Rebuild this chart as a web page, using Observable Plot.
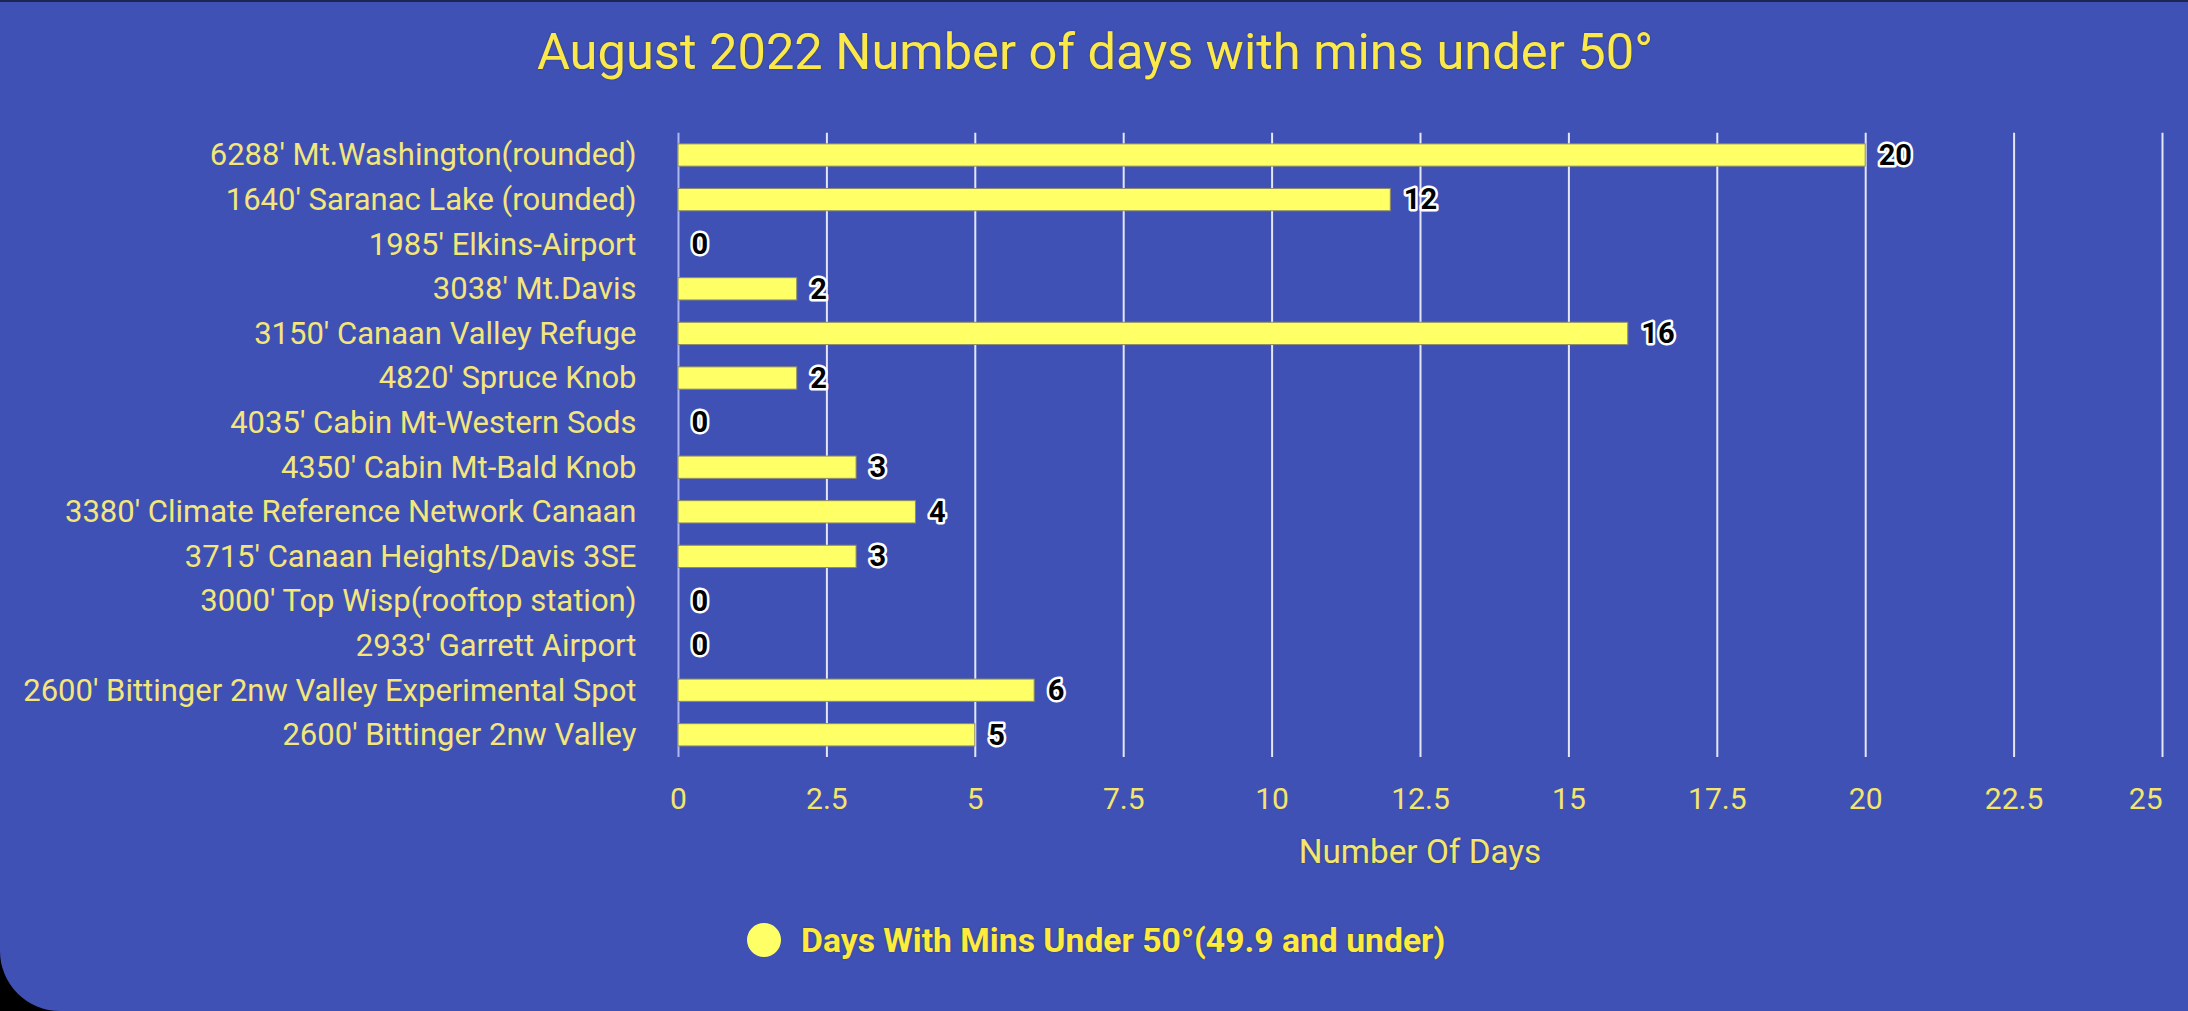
<!DOCTYPE html>
<html>
<head>
<meta charset="utf-8">
<script src="https://cdn.jsdelivr.net/npm/d3@7"></script>
<script src="https://cdn.jsdelivr.net/npm/@observablehq/plot@0.6"></script>
<style>
  html, body { margin: 0; padding: 0; background: #000; }
  #wrap {
    position: relative; width: 2188px; height: 1011px; box-sizing: border-box;
    background: #3F51B5; border-top: 2px solid #1d2550;
    border-bottom-left-radius: 60px; overflow: hidden;
    font-family: Roboto, "Noto Sans", sans-serif;
  }
  #title {
    position: absolute; left: 1px; width: 2188px; top: 24px; text-align: center;
    font-size: 50.6px; line-height: 51px; color: #fbe94c;
    text-shadow: 0 0 2px rgba(40,40,20,0.45);
  }
  #chart { position: absolute; left: 0; top: -2px; }
  #xlabel {
    position: absolute; left: 678px; width: 1484px; top: 833px; text-align: center;
    font-size: 33.3px; line-height: 33px; color: #f4e66c;
    text-shadow: 0 0 2px rgba(40,40,20,0.4);
  }
  #legend { position: absolute; left: 747px; top: 919px; height: 38px; display: flex; align-items: center; }
  #legend .dot { width: 34px; height: 34px; border-radius: 50%; background: #ffff66; margin-right: 20px; }
  #legend .txt { font-size: 33.7px; font-weight: bold; color: #ffeb3b; text-shadow: 0 0 2px rgba(40,40,20,0.45); }
</style>
</head>
<body>
<div id="wrap">
  <div id="title">August 2022 Number of days with mins under 50°</div>
  <div id="chart"></div>
  <div id="xlabel">Number Of Days</div>
  <div id="legend"><div class="dot"></div><div class="txt">Days With Mins Under 50°(49.9 and under)</div></div>
</div>
<script>
const stations = [
  "6288' Mt.Washington(rounded)",
  "1640' Saranac Lake (rounded)",
  "1985' Elkins-Airport",
  "3038' Mt.Davis",
  "3150' Canaan Valley Refuge",
  "4820' Spruce Knob",
  "4035' Cabin Mt-Western Sods",
  "4350' Cabin Mt-Bald Knob",
  "3380' Climate Reference Network Canaan",
  "3715' Canaan Heights/Davis 3SE",
  "3000' Top Wisp(rooftop station)",
  "2933' Garrett Airport",
  "2600' Bittinger 2nw Valley Experimental Spot",
  "2600' Bittinger 2nw Valley"
];
const days = [20, 12, 0, 2, 16, 2, 0, 3, 4, 3, 0, 0, 6, 5];
const xTicks = [0, 2.5, 5, 7.5, 10, 12.5, 15, 17.5, 20, 22.5, 25];
const xTicksInner = xTicks.slice(0, -1);
const xTickLast = xTicks.slice(-1);

const data = stations.map((s, i) => ({station: s, days: days[i]}));
const fmt = d => String(d);

const W = 2188, H = 880;
const chart = Plot.plot({
  width: W,
  height: H,
  marginLeft: 678,
  marginRight: 26,
  marginTop: 132.7,
  marginBottom: H - 757.1,
  style: {background: "transparent", color: "#f4e66c", fontFamily: "Roboto, sans-serif"},
  x: {domain: [0, 25], axis: null},
  y: {domain: stations, paddingInner: 0.5, paddingOuter: 0.25, round: false, axis: null},
  marks: [
    Plot.gridX(xTicks.slice(1), {stroke: "#e4e6f6", strokeOpacity: 1, strokeWidth: 2}),
    Plot.ruleX([0], {stroke: "#aeb8f0", strokeWidth: 2}),
    Plot.barX(data, {x: "days", y: "station", fill: "#ffff66", stroke: "#8e8c6a", strokeWidth: 1}),
    Plot.text(data, {
      x: "days", y: "station", text: d => String(d.days),
      textAnchor: "start", dx: 13, fontSize: 29, fontWeight: "bold",
      fill: "#000", stroke: "#fff", strokeWidth: 5, paintOrder: "stroke"
    }),
    Plot.axisY({tickSize: 0, tickPadding: 42, fontSize: 31, label: null, color: "#f4e67a"}),
    Plot.axisX(xTicksInner, {tickSize: 0, tickPadding: 30, fontSize: 30, label: null, color: "#f4e66c", tickFormat: fmt}),
    Plot.axisX(xTickLast, {tickSize: 0, tickPadding: 30, fontSize: 30, label: null, color: "#f4e66c", textAnchor: "end", tickFormat: fmt})
  ]
});
document.getElementById("chart").appendChild(chart);
</script>
</body>
</html>
